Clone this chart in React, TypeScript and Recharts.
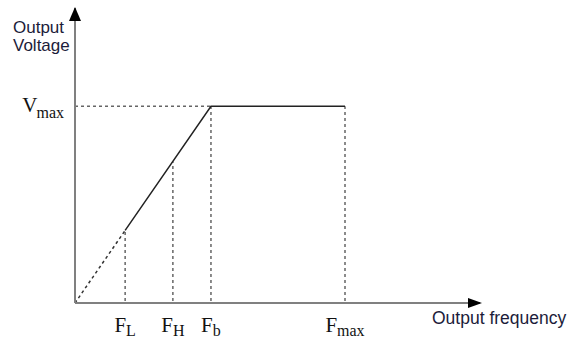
import { ComposedChart, Line, ReferenceDot, ReferenceLine, XAxis, YAxis } from 'recharts';

// frequency ticks and their subscripts
const FREQ_TICKS = [10.4, 20.3, 28.2, 56];
const FREQ_SUBS = ['L', 'H', 'b', 'max'];
// voltage on the V/f curve at each tick
const TICK_VOLTS = [36.9, 72, 100, 100];

const V_MAX = 100;
const F_BASE = 28.2;
const F_AXIS_END = 84;
const V_AXIS_END = 150;

// solid part of the curve
const RAMP_FREQ = [10.4, 28.2, 56];
const RAMP_VOLT = [36.9, 100, 100];
// dashed start from origin
const LOW_FREQ = [0, 10.4];
const LOW_VOLT = [0, 36.9];

const ramp = RAMP_FREQ.map((f, i) => ({ f, v: RAMP_VOLT[i] }));
const low = LOW_FREQ.map((f, i) => ({ f, v: LOW_VOLT[i] }));

const SERIF = '"Liberation Serif", "Times New Roman", serif';
const SANS = '"Liberation Sans", Arial, sans-serif';
const DASH = '#666';

function FreqTick(props: any) {
  const { x, y, payload } = props;
  const i = FREQ_TICKS.indexOf(payload.value);
  return (
    <text x={x} y={y + 21} textAnchor="middle" fontFamily={SERIF} fontSize={21} fill="#111">
      F<tspan fontSize={16} dy={4}>{FREQ_SUBS[i]}</tspan>
    </text>
  );
}

function VoltTick(props: any) {
  const { x, y } = props;
  return (
    <text x={x - 3} y={y + 6} textAnchor="end" fontFamily={SERIF} fontSize={21} fill="#111">
      V<tspan fontSize={16} dy={6} dx={-1}>max</tspan>
    </text>
  );
}

const UpArrow = (p: any) => (
  <polygon points={`${p.cx},${p.cy - 1} ${p.cx - 6},${p.cy + 13} ${p.cx + 6},${p.cy + 13}`} fill="#000" />
);
const RightArrow = (p: any) => (
  <polygon points={`${p.cx + 2},${p.cy} ${p.cx - 12},${p.cy - 5} ${p.cx - 12},${p.cy + 5}`} fill="#000" />
);

export default function App() {
  return (
    <div style={{ position: 'absolute', left: 0, top: 0, width: 570, height: 338, background: '#fff' }}>
      <ComposedChart width={570} height={338} margin={{ top: 8, right: 90, bottom: 0, left: 0 }}>
        <XAxis
          dataKey="f"
          type="number"
          domain={[0, F_AXIS_END]}
          ticks={FREQ_TICKS}
          tickLine={false}
          tick={<FreqTick />}
          height={35}
          axisLine={{ stroke: '#808080', strokeWidth: 2 }}
          allowDataOverflow
        />
        <YAxis
          type="number"
          domain={[0, V_AXIS_END]}
          ticks={[V_MAX]}
          tickLine={false}
          tick={<VoltTick />}
          width={75}
          axisLine={{ stroke: '#808080', strokeWidth: 2 }}
          allowDataOverflow
        />
        <ReferenceLine
          segment={[{ x: 0, y: V_MAX }, { x: F_BASE, y: V_MAX }]}
          stroke={DASH}
          strokeWidth={1.5}
          strokeDasharray="3 3"
        />
        {FREQ_TICKS.map((f, i) => (
          <ReferenceLine
            key={f}
            segment={[{ x: f, y: 1 }, { x: f, y: TICK_VOLTS[i] }]}
            stroke={DASH}
            strokeWidth={1.5}
            strokeDasharray="3 3"
          />
        ))}
        <Line
          data={low}
          dataKey="v"
          type="linear"
          dot={false}
          stroke="#333"
          strokeWidth={1.5}
          strokeDasharray="3 3"
          isAnimationActive={false}
        />
        <Line
          data={ramp}
          dataKey="v"
          type="linear"
          dot={false}
          stroke="#222"
          strokeWidth={1.5}
          isAnimationActive={false}
        />
        <ReferenceDot x={0} y={V_AXIS_END} r={0} shape={UpArrow} />
        <ReferenceDot x={F_AXIS_END} y={0} r={0} shape={RightArrow} />
      </ComposedChart>
      <div
        style={{
          position: 'absolute',
          left: 13,
          top: 19,
          fontFamily: SANS,
          fontSize: 17,
          lineHeight: '18px',
          color: '#1c1c3a',
        }}
      >
        Output
        <br />
        Voltage
      </div>
      <div
        style={{
          position: 'absolute',
          left: 432,
          top: 309,
          fontFamily: SANS,
          fontSize: 17.5,
          lineHeight: '18px',
          color: '#1c1c3a',
          whiteSpace: 'nowrap',
        }}
      >
        Output frequency
      </div>
    </div>
  );
}
